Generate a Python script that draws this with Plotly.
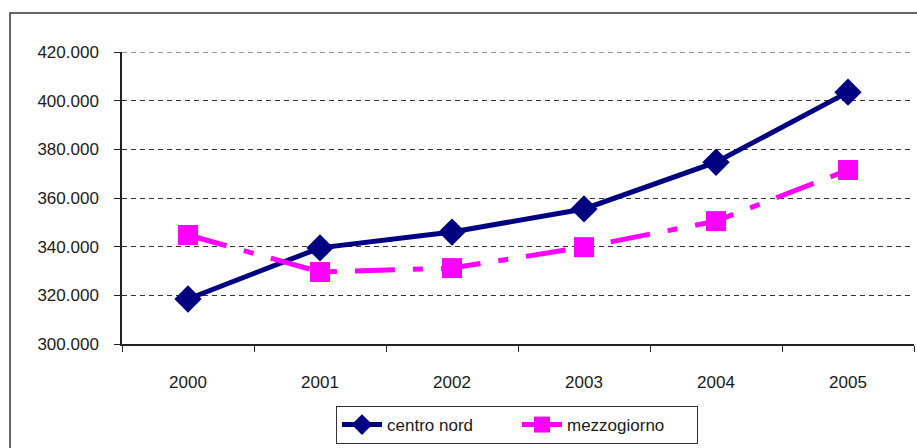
import plotly.graph_objects as go

# Annual values by macro-area
anni = ["2000", "2001", "2002", "2003", "2004", "2005"]
centro_nord = [318500, 339500, 346000, 355500, 374700, 403500]
mezzogiorno = [344800, 329600, 331200, 339800, 350500, 371500]

y_ticks = [300000, 320000, 340000, 360000, 380000, 400000, 420000]

FONT = "Liberation Sans, Arial, sans-serif"

fig = go.Figure()

fig.add_trace(go.Scatter(
    x=anni, y=centro_nord, name="centro nord", mode="lines+markers",
    line=dict(color="#000080", width=5),
    marker=dict(symbol="diamond", size=21, color="#000080"),
))
fig.add_trace(go.Scatter(
    x=anni, y=mezzogiorno, name="mezzogiorno", mode="lines+markers",
    line=dict(color="#FF00FF", width=5, dash="40px,18px,10px,18px"),
    marker=dict(symbol="square", size=20, color="#FF00FF"),
))

L, R, T, B = 122, 3, 52, 104
W, H = 917, 448
pw, ph = W - L - R, H - T - B

# outer chart frame (left and top edges visible)
fig.add_shape(
    type="rect", xref="paper", yref="paper",
    x0=(10 - L) / pw, x1=1.2, y0=-1.0, y1=1 + (T - 13) / ph,
    line=dict(color="#333333", width=1.5), fillcolor="rgba(0,0,0,0)",
    layer="below",
)

# dashed gridline on the top tick, which sits on the plot edge
fig.add_shape(
    type="line", xref="paper", yref="y",
    x0=0, x1=1, y0=y_ticks[-1], y1=y_ticks[-1],
    line=dict(color="#333333", width=1, dash="5px,4px"),
    layer="below",
)

fig.update_layout(
    width=W, height=H,
    margin=dict(l=L, r=R, t=T, b=B),
    paper_bgcolor="white", plot_bgcolor="white",
    separators=",.",
    font=dict(family=FONT, size=17, color="#1a1a1a"),
    showlegend=True,
    legend=dict(
        orientation="h", x=(517 - L) / pw, xanchor="center",
        y=-(406 - (H - B)) / ph, yanchor="top",
        bordercolor="#333333", borderwidth=1,
        font=dict(family=FONT, size=17, color="#1a1a1a"),
        entrywidth=125, itemwidth=40,
    ),
    xaxis=dict(
        type="category", range=[-0.5, 5.5], showgrid=False, showline=True,
        linecolor="#222222", linewidth=1.5,
        ticks="outside", ticklen=6, tickcolor="#222222", tickson="boundaries",
        tickfont=dict(size=17), zeroline=False, ticklabelstandoff=22,
    ),
    yaxis=dict(
        range=[300000, 420000], tickvals=y_ticks, tickformat=",.0f",
        showline=True, linecolor="#222222", linewidth=1.5,
        ticks="outside", ticklen=6, tickcolor="#222222",
        showgrid=True, gridcolor="#333333", gridwidth=1,
        griddash="5px,4px", zeroline=False, tickfont=dict(size=17),
        ticklabelstandoff=12,
    ),
)

fig.write_html("out.html")
